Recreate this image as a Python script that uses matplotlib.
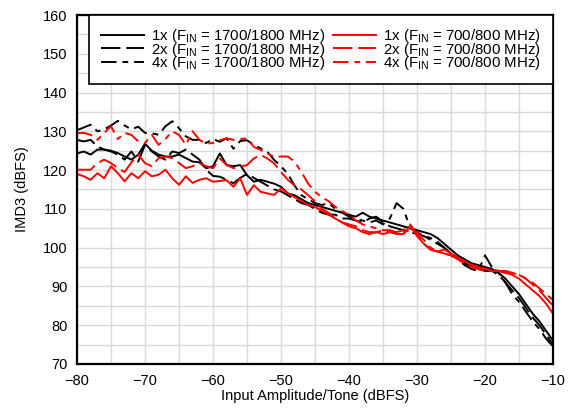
import matplotlib
matplotlib.use("Agg")
import matplotlib.pyplot as plt
import numpy as np

plt.rcParams['font.family'] = ['Liberation Sans', 'DejaVu Sans']
plt.rcParams['mathtext.fontset'] = 'custom'
plt.rcParams['mathtext.rm'] = 'Liberation Sans'
plt.rcParams['mathtext.it'] = 'Liberation Sans'

# Input amplitude per tone (dBFS), -80 ... -10 in 1 dB steps
x_dbfs = list(range(-80, -9))

# IMD3 (dBFS), FIN = 1700/1800 MHz
imd3_1x_hi = [124.3, 124.8, 124, 125.3, 125.3, 125, 124.4, 123.5, 122.7, 124,
              126.8, 125, 124, 123.5, 123.5, 124, 123.1, 122.2, 122, 120.5,
              121, 124.3, 121.3, 121, 121.3, 118.7, 117, 117.5, 117, 116.5,
              115.7, 114, 113.5, 112.5, 111.5, 111,
              110.5, 110, 109.5, 109, 108.5, 108, 109, 108, 107.5, 107,
              106.5, 106, 105.5, 105, 104.5, 104, 103.5, 102.5, 101, 99.5,
              98, 97, 96, 95.5, 95, 94.5, 93.5, 92, 90, 88,
              85.5, 83, 81, 78.5, 76]
imd3_2x_hi = [127.8, 127.4, 127.8, 126.1, 125.3, 124.8, 124, 122.7, 124.8, 122.2,
              126.5, 124.8, 123.5, 122.7, 124.8, 124.4, 125.3, 124, 122.7, 120.1,
              118.5, 118.3, 117.5, 116.6, 118, 119, 118, 117, 116, 115,
              114.5, 113.5, 112.5, 111.5, 111, 110,
              109, 108.5, 108.5, 107.5, 107.5, 107, 106.5, 107.5, 108, 106.5,
              105.5, 105, 104.5, 104, 103.5, 103, 102, 101, 100, 98.5,
              97.5, 96, 95, 94.5, 94, 94, 93, 91, 89, 87,
              84.5, 82, 80, 77.5, 75]
imd3_4x_hi = [130.3, 131, 131.7, 130, 130.5, 131.5, 132.7, 131.5, 130.5, 131.2,
              129.6, 129.5, 129.1, 131.3, 132.6, 130.8, 128.7, 127.8, 127.8, 127,
              128, 127.3, 128.2, 125.5, 127.5, 127.7, 126.5, 125.6, 124.7, 122.6,
              121, 119, 116, 113.5, 112.5, 111.5,
              111, 111.5, 110, 109, 108, 107.5, 107, 106.5, 107, 106,
              107.5, 111.5, 110, 105, 104, 103, 102.5, 101.5, 100, 98.5,
              97, 95.5, 94.5, 94, 98, 95, 93.5, 91, 88, 86,
              83.5, 81, 79, 76.5, 74.5]

# IMD3 (dBFS), FIN = 700/800 MHz
imd3_1x_lo = [119, 118.4, 117.5, 119.2, 117.9, 121, 119.2, 117.1, 119.2, 117.9,
              119.7, 118.4, 118.8, 120.1, 117.9, 116.2, 118.4, 116.7, 117.5, 117.9,
              117, 117.2, 117.4, 115.7, 117.9, 113.6, 116.1, 114.4, 114, 113.6,
              115.3, 114, 113, 112, 111, 110.5,
              109.5, 108.5, 107.5, 106.5, 105.5, 105, 104, 103.5, 104, 103.5,
              104, 103.5, 103.5, 105.5, 103, 101, 99.5, 99, 99.5, 98.5,
              97.5, 96.5, 95.5, 95, 94.5, 94, 94, 93.5, 93, 92,
              90.5, 89, 87.5, 85.5, 83]
imd3_2x_lo = [120.1, 120.1, 120.1, 121.8, 122.7, 121.8, 120.5, 119.5, 122, 124,
              121.8, 121, 123.1, 123.5, 123.1, 121.8, 120.5, 121, 121.8, 121,
              120.5, 123, 121.3, 120.5, 120.9, 121.3, 123, 123.9, 123, 121.7,
              119.5, 117.5, 116, 115, 113.5, 112,
              110, 109, 107.5, 106.5, 106, 105.5, 104.5, 104, 104, 104.5,
              104, 104, 104.5, 106, 103.5, 101, 99.5, 99, 98.5, 98,
              97, 96, 95.5, 95, 94.5, 94.5, 94, 94, 93.5, 93,
              92, 90.5, 89, 87, 85]
imd3_4x_lo = [129.5, 129.6, 129.1, 127.8, 129.6, 131.3, 128, 129.6, 129.1, 127.4,
              127, 129.1, 126.5, 128, 130, 129.1, 126.5, 130, 127.8, 126.8,
              127, 127.7, 128.2, 127.8, 128, 128.2, 126, 125.2, 124.3, 123.4,
              123.5, 123.5, 122.2, 119.5, 116.5, 114.4,
              113, 112, 110.5, 109.5, 108.4, 107, 106, 105.5, 105, 104.5,
              104.5, 104, 104, 104.5, 104, 102, 100, 99, 98.5, 98,
              97, 96, 95, 94.5, 94, 94, 94, 93.5, 93.5, 93,
              92, 91, 89.5, 88, 86.5]

labels = ["1x (F$_{\\rm IN}$ = 1700/1800 MHz)", "2x (F$_{\\rm IN}$ = 1700/1800 MHz)",
          "4x (F$_{\\rm IN}$ = 1700/1800 MHz)", "1x (F$_{\\rm IN}$ = 700/800 MHz)",
          "2x (F$_{\\rm IN}$ = 700/800 MHz)", "4x (F$_{\\rm IN}$ = 700/800 MHz)"]

fig = plt.figure(figsize=(5.71, 4.11), dpi=100)
ax = fig.add_axes([0.1349, 0.1144, 0.8336, 0.8491])

lw = 1.4
series = [imd3_1x_hi, imd3_2x_hi, imd3_4x_hi, imd3_1x_lo, imd3_2x_lo, imd3_4x_lo]
colors = ['black'] * 3 + ['#ff0000'] * 3
dashes = [None, (10, 3), (8, 3, 3, 3)] * 2
for y, c, d, lab in zip(series, colors, dashes, labels):
    line, = ax.plot(x_dbfs, y, color=c, lw=lw, label=lab)
    if d is not None:
        line.set_dashes(d)

ax.set_xlim(-80, -10)
ax.set_ylim(70, 160)
ax.set_xticks(np.arange(-80, -9, 10))
ax.set_yticks(np.arange(70, 161, 10))
ax.set_xticks(np.arange(-80, -9, 5), minor=True)
ax.set_yticks(np.arange(70, 161, 5), minor=True)
ax.grid(True, which='both', color='#d9d9d9', lw=1.0)
ax.set_axisbelow(True)
ax.tick_params(which='both', length=0, labelsize=10.5, pad=7)
for s in ax.spines.values():
    s.set_linewidth(1.6)
    s.set_color('black')

ax.set_xlabel("Input Amplitude/Tone (dBFS)", fontsize=10.5, labelpad=1)
ax.set_ylabel("IMD3 (dBFS)", fontsize=10.5, labelpad=10)

leg = ax.legend(ncol=2, loc='upper right', fontsize=10.8, frameon=True,
                fancybox=False, borderaxespad=0, handlelength=2.87,
                labelspacing=-0.3, columnspacing=0.53, handletextpad=0.47,
                borderpad=0.8)
leg.get_frame().set_edgecolor('black')
leg.get_frame().set_linewidth(1.2)
leg.get_frame().set_alpha(1)

fig.savefig("out.png", dpi=100)
